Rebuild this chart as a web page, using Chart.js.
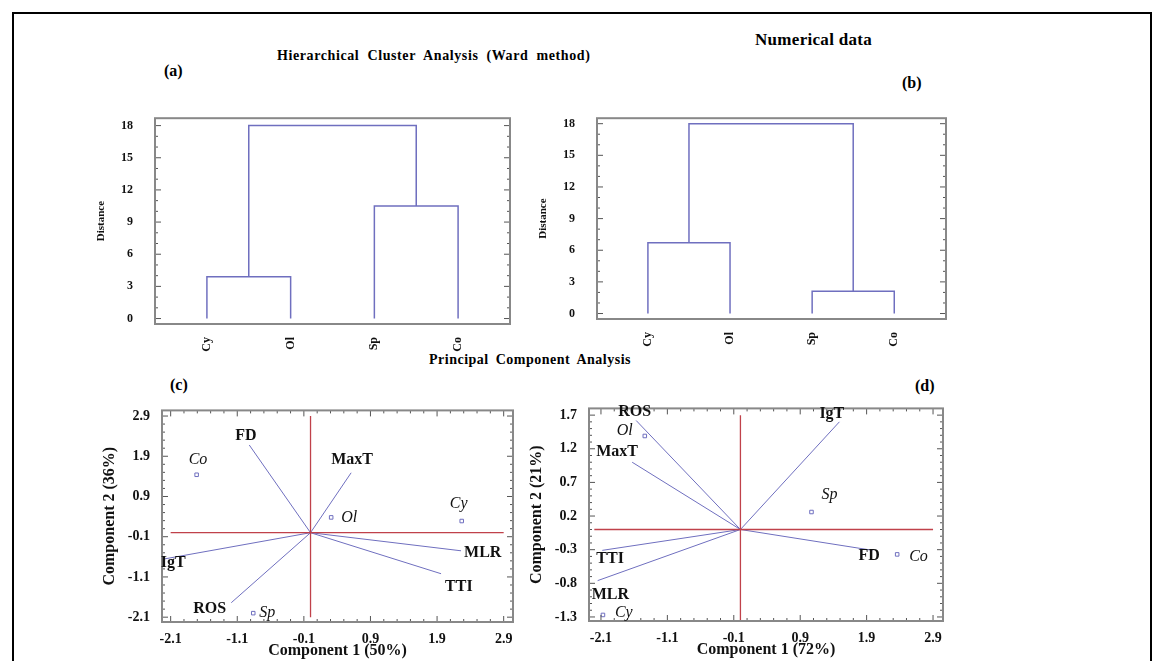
<!DOCTYPE html>
<html>
<head>
<meta charset="utf-8">
<script src="https://cdn.jsdelivr.net/npm/chart.js@4"></script>
<style>
body { margin: 0; background: #fff; width: 1166px; height: 661px; overflow: hidden; position: relative; font-family: "Liberation Serif", serif; }
#frame { position: absolute; left: 12px; top: 12px; width: 1140px; height: 660px; border: 2px solid #000; box-sizing: border-box; }
canvas { position: absolute; }
.t { position: absolute; font-weight: bold; color: #000; white-space: nowrap; }
</style>
</head>
<body>
<div id="frame"></div>
<div class="t" style="left:755px;top:30px;font-size:17px;letter-spacing:0.3px">Numerical data</div>
<div class="t" style="left:277px;top:48px;font-size:14px;word-spacing:4px;letter-spacing:0.6px">Hierarchical Cluster Analysis (Ward method)</div>
<div class="t" style="left:164px;top:62px;font-size:16px">(a)</div>
<div class="t" style="left:902px;top:74px;font-size:16px">(b)</div>
<div class="t" style="left:429px;top:352px;font-size:14px;word-spacing:3px;letter-spacing:0.5px">Principal Component Analysis</div>
<div class="t" style="left:170px;top:376px;font-size:16px">(c)</div>
<div class="t" style="left:915px;top:377px;font-size:16px">(d)</div>
<canvas id="ca"></canvas>
<canvas id="cb"></canvas>
<canvas id="cc"></canvas>
<canvas id="cd"></canvas>
<script>
// dendrogram data
const leaves = ['Cy', 'Ol', 'Sp', 'Co'];
const distTicks = [0, 3, 6, 9, 12, 15, 18];
const mergeA = [3.9, 10.5, 18];   // Cy-Ol, Sp-Co, top
const mergeB = [6.7, 2.1, 18];

// PCA data
const pcaXTicks = [-2.1, -1.1, -0.1, 0.9, 1.9, 2.9];
const pcaYTicksC = [-2.1, -1.1, -0.1, 0.9, 1.9, 2.9];
const pcaYTicksD = [-1.3, -0.8, -0.3, 0.2, 0.7, 1.2, 1.7];
const varNames = ['FD', 'MaxT', 'MLR', 'TTI', 'IgT', 'ROS'];
const vecCx = [-0.92, 0.61, 2.26, 1.96, -2.22, -1.19];
const vecCy = [2.18, 1.49, -0.45, -1.02, -0.66, -1.74];
const vecDx = [1.99, -1.63, -2.15, -2.08, 1.49, -1.57];
const vecDy = [-0.31, 1.0, -0.76, -0.31, 1.6, 1.62];
const obsNames = ['Co', 'Ol', 'Cy', 'Sp'];
const obsCx = [-1.71, 0.31, 2.27, -0.86];
const obsCy = [1.44, 0.38, 0.29, -2.0];
const obsDx = [2.36, -1.44, -2.07, 1.07];
const obsDy = [-0.37, 1.39, -1.27, 0.26];

const BLUE = '#6f6fbf', RED = '#c0414a', FONT = 'Liberation Serif';

function dendroLines(m) {
    const c1 = 1.5, c2 = 3.5;
    return [
        [{x: 1, y: 0}, {x: 1, y: m[0]}, {x: 2, y: m[0]}, {x: 2, y: 0}],
        [{x: 3, y: 0}, {x: 3, y: m[1]}, {x: 4, y: m[1]}, {x: 4, y: 0}],
        [{x: c1, y: m[0]}, {x: c1, y: m[2]}, {x: c2, y: m[2]}, {x: c2, y: m[1]}]
    ];
}

// frame + inner ticks + text labels
const framePlugin = {
    id: 'frameBox',
    afterDraw(chart, args, opts) {
        const {ctx, chartArea: a, scales} = chart;
        ctx.save();
        ctx.strokeStyle = '#555';
        ctx.lineWidth = 1;
        const minor = opts.minor || 0;
        ['y', 'x'].forEach(k => {
            const s = scales[k];
            if (!s || (k === 'x' && opts.noX)) return;
            const t = s.ticks.map(v => v.value);
            const all = [];
            for (let i = 0; i < t.length; i++) {
                all.push([t[i], 6]);
                if (i < t.length - 1) for (let j = 1; j <= minor; j++) all.push([t[i] + (t[i + 1] - t[i]) * j / (minor + 1), 3]);
            }
            all.forEach(([v, len]) => {
                const p = s.getPixelForValue(v);
                ctx.beginPath();
                if (k === 'y') {
                    ctx.moveTo(a.left, p); ctx.lineTo(a.left + len, p);
                    ctx.moveTo(a.right, p); ctx.lineTo(a.right - len, p);
                } else {
                    ctx.moveTo(p, a.bottom); ctx.lineTo(p, a.bottom - len);
                    ctx.moveTo(p, a.top); ctx.lineTo(p, a.top + len);
                }
                ctx.stroke();
            });
        });
        ctx.strokeStyle = '#888';
        ctx.lineWidth = 2;
        ctx.strokeRect(a.left, a.top, a.right - a.left, a.bottom - a.top);
        (opts.labels || []).forEach(l => {
            ctx.font = (l.italic ? 'italic ' : 'bold ') + l.size + 'px ' + FONT;
            ctx.fillStyle = '#111';
            ctx.textAlign = 'left';
            ctx.textBaseline = 'middle';
            ctx.fillText(l.text, scales.x.getPixelForValue(l.x) + l.dx, scales.y.getPixelForValue(l.y) + l.dy);
        });
        ctx.restore();
    }
};

function place(id, left, top, w, h) {
    const c = document.getElementById(id);
    c.style.left = left + 'px';
    c.style.top = top + 'px';
    c.width = w;
    c.height = h;
    c.style.width = w + 'px';
    c.style.height = h + 'px';
    return c;
}

function tickFont(size) { return {family: FONT, size: size, weight: 'bold'}; }

function makeDendro(id, box, m, xr, yr) {
    const padL = 62, padB = 34;
    const c = place(id, box[0] - padL, box[1] - 4, box[2] - box[0] + padL + 4, box[3] - box[1] + padB + 4);
    new Chart(c, {
        type: 'scatter',
        data: {
            datasets: dendroLines(m).map(d => ({
                data: d, showLine: true, borderColor: BLUE, borderWidth: 1.5,
                pointRadius: 0, tension: 0
            }))
        },
        options: {
            animation: false, responsive: false, devicePixelRatio: 1,
            layout: {padding: {left: 0, right: 4, top: 4, bottom: 0}},
            plugins: {legend: {display: false}, tooltip: {enabled: false},
                frameBox: {minor: 2, noX: true}},
            scales: {
                x: {
                    type: 'linear', min: xr[0], max: xr[1],
                    afterBuildTicks: s => { s.ticks = leaves.map((n, i) => ({value: i + 1})); },
                    afterFit: s => { s.height = padB; },
                    grid: {display: false}, border: {display: false},
                    ticks: {callback: v => leaves[v - 1], minRotation: 90, maxRotation: 90,
                        font: tickFont(12), color: '#111', padding: 5}
                },
                y: {
                    min: yr[0], max: yr[1],
                    afterBuildTicks: s => { s.ticks = distTicks.map(v => ({value: v})); },
                    afterFit: s => { s.width = padL; },
                    grid: {display: false}, border: {display: false},
                    title: {display: true, text: 'Distance', font: tickFont(11), color: '#111', padding: 2},
                    ticks: {font: tickFont(12), color: '#111', padding: 14}
                }
            }
        },
        plugins: [framePlugin]
    });
}

function makePca(id, box, xr, yr, yTicks, vx, vy, ox, oy, redX, redY, xTitle, yTitle, varOff, obsOff) {
    const padL = 62, padB = 42;
    const c = place(id, box[0] - padL, box[1] - 4, box[2] - box[0] + padL + 4, box[3] - box[1] + padB + 4);
    const vecSets = vx.map((x, i) => ({
        data: [{x: 0, y: 0}, {x: x, y: vy[i]}], showLine: true, borderColor: BLUE,
        borderWidth: 1, pointRadius: 0
    }));
    const labels = varNames.map((n, i) => ({text: n, x: vx[i], y: vy[i], dx: varOff[i][0], dy: varOff[i][1], size: 16}))
        .concat(obsNames.map((n, i) => ({text: n, x: ox[i], y: oy[i], dx: obsOff[i][0], dy: obsOff[i][1], size: 16, italic: true})));
    new Chart(c, {
        type: 'scatter',
        data: {
            datasets: [
                {data: [{x: redX[0], y: 0}, {x: redX[1], y: 0}], showLine: true, borderColor: RED, borderWidth: 1.3, pointRadius: 0},
                {data: [{x: 0, y: redY[0]}, {x: 0, y: redY[1]}], showLine: true, borderColor: RED, borderWidth: 1.3, pointRadius: 0}
            ].concat(vecSets).concat([{
                data: ox.map((x, i) => ({x: x, y: oy[i]})), pointStyle: 'rect', pointRadius: 2.5,
                backgroundColor: '#fff', borderColor: BLUE, borderWidth: 1
            }])
        },
        options: {
            animation: false, responsive: false, devicePixelRatio: 1,
            layout: {padding: {left: 0, right: 4, top: 4, bottom: 0}},
            plugins: {legend: {display: false}, tooltip: {enabled: false},
                frameBox: {minor: 4, labels: labels}},
            scales: {
                x: {
                    type: 'linear', min: xr[0], max: xr[1],
                    afterBuildTicks: s => { s.ticks = pcaXTicks.map(v => ({value: v})); },
                    afterFit: s => { s.height = padB; },
                    grid: {display: false}, border: {display: false},
                    title: {display: true, text: xTitle, font: tickFont(16), color: '#111', padding: {top: 0}},
                    ticks: {callback: v => v.toFixed(1), font: tickFont(14), color: '#111', padding: 1, maxRotation: 0}
                },
                y: {
                    min: yr[0], max: yr[1],
                    afterBuildTicks: s => { s.ticks = yTicks.map(v => ({value: v})); },
                    afterFit: s => { s.width = padL; },
                    grid: {display: false}, border: {display: false},
                    title: {display: true, text: yTitle, font: tickFont(16), color: '#111', padding: 0},
                    ticks: {callback: v => v.toFixed(1), font: tickFont(14), color: '#111', padding: 4}
                }
            }
        },
        plugins: [framePlugin]
    });
}

makeDendro('ca', [155, 101, 510, 324], mergeA, [0.38, 4.62], [-0.51, 18.69]);
makeDendro('cb', [597, 101, 946, 319], mergeB, [0.38, 4.63], [-0.52, 18.52]);

makePca('cc', [162, 402, 514, 622], [-2.23, 3.04], [-2.22, 3.04], pcaYTicksC,
    vecCx, vecCy, obsCx, obsCy, [-2.1, 2.9], [-2.1, 2.9],
    'Component 1 (50%)', 'Component 2 (36%)',
    [[-14, -9], [-20, -13], [3, 2], [4, 13], [-2, 4], [-38, 6]],
    [[-8, -15], [10, 0], [-12, -17], [6, 0]]);
makePca('cd', [589, 400, 944, 621], [-2.28, 3.05], [-1.36, 1.8], pcaYTicksD,
    vecDx, vecDy, obsDx, obsDy, [-2.2, 2.9], [-1.4, 1.7],
    'Component 1 (72%)', 'Component 2 (21%)',
    [[-14, 6], [-36, -10], [-6, 14], [-6, 9], [-20, -8], [-18, -9]],
    [[12, 2], [-28, -5], [12, -2], [10, -17]]);
</script>
</body>
</html>
